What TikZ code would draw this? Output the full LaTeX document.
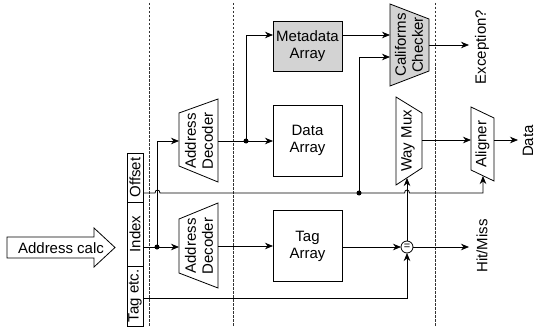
\documentclass[tikz,border=0pt]{standalone}
\usepackage{fontspec}
\setmainfont{Liberation Sans}
\usetikzlibrary{arrows.meta}
\definecolor{fillg}{RGB}{211,211,211}
\begin{document}
\begin{tikzpicture}[x=1pt,y=-1pt, line width=0.8pt,
  font=\fontsize{15}{17}\selectfont,
  every node/.style={inner sep=0pt, outer sep=0pt},
  box/.style={draw, minimum width=69pt, align=center},
  cell/.style={draw, rotate=90, minimum height=16pt},
  vlbl/.style={rotate=90, align=center},
  arr/.style={-{Stealth[length=8pt,width=6.5pt,inset=2.5pt]}},
  sepline/.style={dash pattern=on 2.5pt off 1.5pt, line width=0.7pt, black!80},
  dot/.style={circle, fill, minimum size=5pt},
  trap/.style={draw, line width=0.8pt}]
\useasboundingbox (0,0) rectangle (535,329);

% separators
\draw[sepline] (149,3) -- (149,326);
\draw[sepline] (233,3) -- (233,326);
\draw[sepline] (435,3) -- (435,326);

% address calc arrow
\draw (7,237) -- (94,237) -- (94,228) -- (115,247.5) -- (94,267) -- (94,258) -- (7,258) -- cycle;
\node (calc) at (61,248) {Address calc};

% address cells
\node[cell, minimum width=49pt] (off) at (135,177.5) {Offset};
\node[cell, minimum width=64pt] (idx) at (135,234) {Index};
\node[cell, minimum width=60pt] (tagetc) at (135,296) {Tag etc.};

% decoders
\draw[trap] (179,113) -- (218,99) -- (218,182) -- (179,166) -- cycle;
\node[vlbl] (dec1) at (199,141) {Address\\Decoder};
\draw[trap] (179,219) -- (218,203) -- (218,288) -- (179,273) -- cycle;
\node[vlbl] (dec2) at (199,246) {Address\\Decoder};

% arrays
\node[box, fill=fillg, minimum height=50pt] (meta) at (307.5,46) {Metadata\\Array};
\node[box, minimum height=71pt] (data) at (307.5,140.5) {Data\\Array};
\node[box, minimum height=71pt] (tag) at (307.5,246) {Tag\\Array};

% checker
\draw[trap, fill=fillg] (390,4) -- (429,19) -- (429,71) -- (390,86) -- cycle;
\node[vlbl] (chk) at (409,45) {Califorms\\Checker};

% way mux
\draw[trap] (396,97) -- (422,113) -- (422,168) -- (396,185) -- cycle;
\node[vlbl] (mux) at (408,141) {Way Mux};

% aligner
\draw[trap] (471,107) -- (494,118) -- (494,181) -- (471,170) -- cycle;
\node[vlbl] (align) at (482.5,144) {Aligner};

% comparator
\node[draw, circle, minimum size=12pt, font=\fontsize{11}{11}\selectfont] (eq) at (407,247) {=};

% output labels
\node[vlbl] (exc) at (482,47) {Exception?};
\node[vlbl] (hit) at (482,246) {Hit/Miss};
\node[vlbl] (dout) at (528,141) {Data};

% ports
\coordinate (idxout) at (143,247);
\coordinate (offout) at (143,193);
\coordinate (tagout) at (143,298);
\coordinate (d1in) at (179,141);
\coordinate (d2in) at (179,247);
\coordinate (d1out) at (218,141);
\coordinate (d2out) at (218,246);
\coordinate (metain) at (273,35);
\coordinate (metaout) at (342,35);
\coordinate (chkin1) at (390,35);
\coordinate (chkin2) at (390,57);
\coordinate (chkout) at (429,45);
\coordinate (excin) at (469,45);
\coordinate (muxin) at (407,178);
\coordinate (muxout) at (422,140);
\coordinate (alin) at (471,140);
\coordinate (alin2) at (483,176);
\coordinate (alout) at (494,140);
\coordinate (datain) at (518,140);
\coordinate (hitin) at (469,247);

% junction dots
\node[dot] (j1) at (157,247) {};
\node[dot] (j2) at (246,141) {};
\node[dot] (j3) at (359,193) {};

% connectors
\draw[arr] (idxout) -- (d2in);
\draw[arr] (j1) |- (d1in);
\draw[arr] (offout) -- (155,193) .. controls (155,189) and (160,189) .. (160,193)
   -- (404.5,193) .. controls (404.5,189) and (409.5,189) .. (409.5,193)
   -- (483,193) -- (alin2);
\draw[arr] (j3) |- (chkin2);
\draw[arr] (d1out) -- (d1out -| data.west);
\draw[arr] (j2) |- (metain);
\draw[arr] (metaout) -- (chkin1);
\draw[arr] (chkout) -- (excin);
\draw[arr] (d2out) -- (d2out -| tag.west);
\draw[arr] (tag.east |- eq.west) -- (eq.west);
\draw[arr] (eq.east) -- (hitin);
\draw[arr] (tagout) -| (eq.south);
\draw[arr] (eq.north) -- (muxin);
\draw[arr] (muxout) -- (alin);
\draw[arr] (alout) -- (datain);
\end{tikzpicture}
\end{document}
